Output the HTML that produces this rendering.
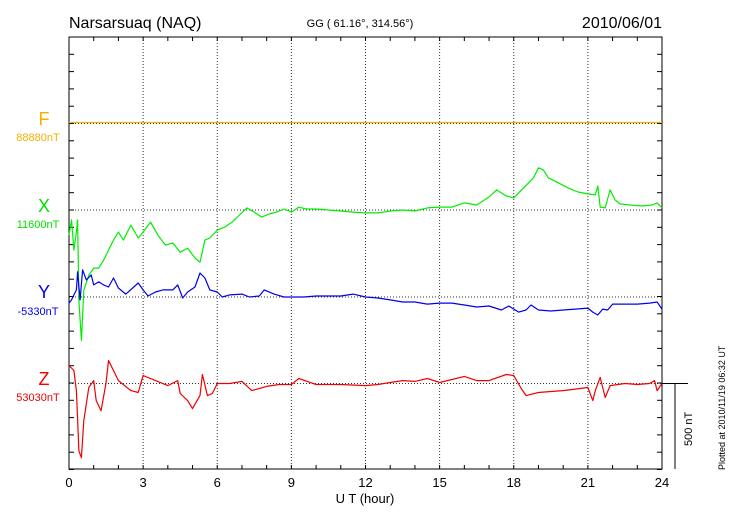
<!DOCTYPE html>
<html><head><meta charset="utf-8"><style>
body{margin:0;background:#fff;}
svg{display:block;font-family:"Liberation Sans",sans-serif;}
</style></head><body>
<svg id="chart" width="730" height="520" viewBox="0 0 730 520" xmlns="http://www.w3.org/2000/svg">
<text x="69" y="28" font-size="16">Narsarsuaq (NAQ)</text>
<text x="360" y="27" font-size="11" text-anchor="middle">GG ( 61.16°, 314.56°)</text>
<text x="662" y="28" font-size="16" text-anchor="end">2010/06/01</text>
<text x="44" y="125" font-size="18" fill="#f5b000" text-anchor="middle">F</text>
<text x="38" y="141" font-size="11" fill="#f5b000" text-anchor="middle">88880nT</text>
<text x="44" y="212" font-size="18" fill="#00e000" text-anchor="middle">X</text>
<text x="38" y="228" font-size="11" fill="#00e000" text-anchor="middle">11600nT</text>
<text x="44" y="298" font-size="18" fill="#0000f0" text-anchor="middle">Y</text>
<text x="38" y="315" font-size="11" fill="#0000f0" text-anchor="middle">-5330nT</text>
<text x="44" y="385" font-size="18" fill="#f00000" text-anchor="middle">Z</text>
<text x="38" y="401" font-size="11" fill="#f00000" text-anchor="middle">53030nT</text>
<text x="365" y="503" font-size="13" text-anchor="middle">U T (hour)</text>
<text transform="translate(725,470) rotate(-90)" font-size="9">Plotted at 2010/11/19 06:32 UT</text>
<g id="axes"></g>
<g id="series"></g>
</svg>
<script>
const hourTicks = [0,3,6,9,12,15,18,21,24];
const fBase = 0;
const xTimes = [0,0.1,0.2,0.3,0.35,0.4,0.5,0.6,0.8,1.0,1.2,1.4,1.6,1.8,2.0,2.2,2.5,2.8,3.0,3.3,3.6,3.9,4.2,4.5,4.8,5.1,5.3,5.5,5.7,6.0,6.3,6.6,6.9,7.2,7.5,7.8,8.1,8.4,8.7,9.0,9.3,9.6,10,10.5,11,11.5,12,12.5,13,13.5,14,14.5,15,15.5,16,16.5,17,17.3,17.7,18,18.4,18.8,19,19.2,19.4,19.8,20.2,20.6,21,21.3,21.4,21.5,21.7,21.9,22.1,22.3,22.7,23.2,23.6,23.8,24];
const xValues = [-145,-58,-232,-128,-58,-522,-754,-464,-377,-336,-336,-290,-232,-174,-128,-174,-87,-162,-128,-70,-145,-203,-191,-244,-220,-278,-302,-174,-162,-116,-99,-70,-29,12,-12,-41,-23,-12,6,-12,17,6,6,0,-6,-12,-17,-17,-6,0,-6,12,17,17,41,29,75,116,81,70,128,186,244,232,186,157,128,104,93,87,139,17,12,116,58,35,29,23,29,41,12];
const yTimes = [0,0.1,0.2,0.3,0.35,0.45,0.55,0.7,0.9,1.0,1.2,1.4,1.6,1.8,2.0,2.3,2.8,3.0,3.2,3.5,3.8,4.2,4.4,4.6,4.8,5.1,5.3,5.5,5.7,6.0,6.2,6.5,7.0,7.3,7.7,7.9,8.3,8.7,9,9.5,10,11,11.5,12,12.5,13,13.5,14,14.5,15,15.5,16,16.5,17,17.5,17.8,18.2,18.5,18.7,19,19.5,20,20.5,21,21.2,21.4,21.6,21.8,22,22.5,23,23.5,23.8,24];
const yValues = [-35,-17,12,41,145,-17,157,99,128,70,87,70,58,110,52,17,81,41,6,29,41,41,70,-6,29,58,139,110,41,29,0,12,17,0,6,41,17,0,0,0,6,6,17,0,-6,-17,-29,-29,-41,-35,-35,-46,-58,-52,-75,-52,-87,-75,-46,-75,-81,-75,-70,-64,-87,-104,-70,-75,-41,-41,-41,-35,-29,-70];
const zTimes = [0,0.2,0.3,0.4,0.5,0.6,0.8,1.0,1.1,1.3,1.5,1.6,1.8,2.0,2.5,2.8,3.0,3.5,4.0,4.4,4.5,4.8,5.0,5.3,5.4,5.6,5.8,6.0,6.5,7.0,7.4,8,8.5,9,9.3,10,11,12,12.5,13,13.5,14,14.5,15,15.5,16,16.5,17,17.7,18,18.3,18.5,19,19.5,20,21,21.2,21.3,21.5,21.7,21.9,22.5,23,23.5,23.7,23.8,24];
const zValues = [104,75,-41,-389,-429,-215,-23,17,-99,-157,6,133,75,17,-41,-52,46,17,-12,17,-58,-99,-145,-70,52,-70,-58,0,0,12,-41,-17,-6,-6,29,-6,-6,-12,-6,6,17,12,29,6,23,41,17,17,52,46,-29,-70,-52,-46,-41,-23,-99,-41,35,-81,-12,0,-6,0,17,-41,0];

const L=69,R=662,T=37,B=469;
const pxPerNT = 86.5/500;
const xs = h => L + (R-L)*h/24;
const ys = (base,v) => base - v*pxPerNT;
const NS="http://www.w3.org/2000/svg";
const axes=document.getElementById('axes'), ser=document.getElementById('series');
function mk(tag,attrs,parent){const e=document.createElementNS(NS,tag);for(const k in attrs)e.setAttribute(k,attrs[k]);parent.appendChild(e);return e;}
// grid
for(const h of hourTicks){ if(h>0&&h<24){const g=mk('line',{x1:xs(h),x2:xs(h),y1:T,y2:B,stroke:'#333','stroke-width':1,'stroke-dasharray':'1,2'},axes);

}
 const t=mk('text',{x:xs(h),y:487,'font-size':13,'text-anchor':'middle'},axes);t.textContent=h;
 
 
}
const bases=[123.5,210,297,383.5];
for(const b of bases){const g=mk('line',{x1:L,x2:R,y1:b,y2:b,stroke:'#333','stroke-width':1,'stroke-dasharray':'1,2'},axes);

}
// minor ticks
for(let h=0;h<=24;h++){mk('line',{x1:xs(h),x2:xs(h),y1:T,y2:T+4,stroke:'#000'},axes);mk('line',{x1:xs(h),x2:xs(h),y1:B,y2:B-4,stroke:'#000'},axes);}
for(let i=0;i<=25;i++){const y=T+i*17.3;mk('line',{x1:L,x2:L+5,y1:y,y2:y,stroke:'#000'},axes);mk('line',{x1:R,x2:R-5,y1:y,y2:y,stroke:'#000'},axes);}
const frame=mk('rect',{x:L,y:T,width:R-L,height:B-T,fill:'none',stroke:'#000','stroke-width':1},axes);


// scale bar
const sb1=mk('line',{x1:R,x2:688,y1:383.5,y2:383.5,stroke:'#000'},axes);


const sb2=mk('line',{x1:675,x2:675,y1:383.5,y2:B,stroke:'#000'},axes);


const st=mk('text',{transform:'translate(692,446) rotate(-90)','font-size':11},axes);st.textContent='500 nT';


// F line
const fl=mk('line',{x1:L,x2:R,y1:ys(122.5,fBase),y2:ys(122.5,fBase),stroke:'#f5b000','stroke-width':1.2},ser);


function line(times,vals,base,color,name){
 const d=times.map((t,i)=>(i?'L':'M')+xs(t).toFixed(1)+','+ys(base,vals[i]).toFixed(1)).join('');
 const p=mk('path',{d:d,fill:'none',stroke:color,'stroke-width':1.2,'stroke-linejoin':'round'},ser);
 
 
}
line(xTimes,xValues,210,'#00ee00','x-series');
line(yTimes,yValues,297,'#0000f0','y-series');
line(zTimes,zValues,383.5,'#f00000','z-series');
</script>
</body></html>
